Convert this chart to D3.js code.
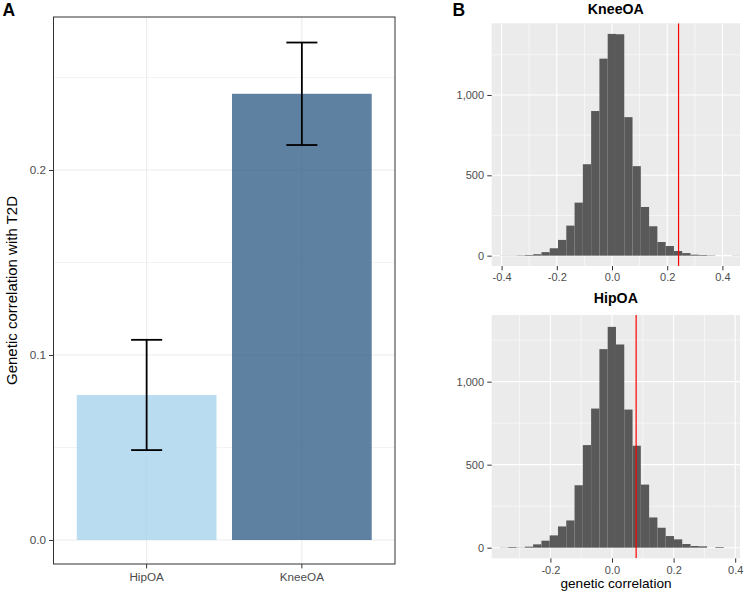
<!DOCTYPE html>
<html>
<head>
<meta charset="utf-8">
<script src="https://cdn.jsdelivr.net/npm/d3@7/dist/d3.min.js"></script>
<style>
  html, body { margin: 0; padding: 0; background: #ffffff; }
  svg { display: block; font-family: "Liberation Sans", Arial, Helvetica, sans-serif; }
</style>
</head>
<body>
<svg id="chart" width="744" height="594"></svg>
<script>
// ---------------- DATA ----------------
const categories = ["HipOA", "KneeOA"];
const rgValues = [0.0784, 0.2412];
const rgSE = [0.0298, 0.0277];
const yTicksA = [0.0, 0.1, 0.2];

// KneeOA permutation histogram (bin counts, left to right)
const kneeBinStart = -0.4056;
const kneeBinWidth = 0.03;
const kneeCounts = [1, 1, 2, 4, 9, 22, 46, 98, 187, 330, 569, 900, 1226, 1380, 1378,
                    862, 557, 303, 183, 85, 60, 29, 16, 6, 4, 2, 0, 0, 1];
const kneeObserved = 0.2412;
const kneeXTicks = [-0.4, -0.2, 0.0, 0.2, 0.4];

// HipOA permutation histogram (bin counts, left to right)
const hipBinStart = -0.3637;
const hipBinWidth = 0.0269;
const hipCounts = [1, 4, 1, 6, 20, 42, 74, 128, 164, 376, 618, 838, 1196, 1330, 1224,
                   832, 614, 380, 182, 120, 70, 50, 22, 10, 8, 0, 4];
const hipObserved = 0.0784;
const hipXTicks = [-0.2, 0.0, 0.2, 0.4];

const histYTicks = [0, 500, 1000];

// ---------------- STYLE ----------------
const barFill = ["#A8D3EC", "#36618B"];
const barOpacity = 0.8;
const histFill = "#595959";
const panelGrey = "#EBEBEB";
const tickText = "#4D4D4D";
const tickLine = "#333333";

const svg = d3.select("#chart");
const fmt1 = d => d.toFixed(1);

function styleAxis(g, fontSize) {
  g.select(".domain").remove();
  g.selectAll(".tick line").attr("stroke", tickLine).attr("stroke-width", 1);
  g.selectAll(".tick text").attr("fill", tickText).style("font-size", fontSize + "px")
    .attr("font-family", null);
}

// ---------------- PANEL A ----------------
(function () {
  const L = 53.5, R = 395, T = 17, B = 564;
  const x = d3.scaleBand().domain(categories).range([L, R]).paddingInner(0.1).paddingOuter(0.15);
  const y = d3.scaleLinear().domain([-0.01297, 0.2827]).range([B, T]);
  const g = svg.append("g");

  // grid
  const minorY = [0.05, 0.15, 0.25];
  g.selectAll(".minorY").data(minorY).join("line")
    .attr("x1", L).attr("x2", R).attr("y1", d => y(d)).attr("y2", d => y(d))
    .attr("stroke", panelGrey).attr("stroke-width", 0.6);
  g.selectAll(".majorY").data(yTicksA).join("line")
    .attr("x1", L).attr("x2", R).attr("y1", d => y(d)).attr("y2", d => y(d))
    .attr("stroke", panelGrey).attr("stroke-width", 1.1);
  g.selectAll(".majorX").data(categories).join("line")
    .attr("x1", d => x(d) + x.bandwidth() / 2).attr("x2", d => x(d) + x.bandwidth() / 2)
    .attr("y1", T).attr("y2", B)
    .attr("stroke", panelGrey).attr("stroke-width", 1.1);

  // bars
  g.selectAll(".bar").data(categories).join("rect")
    .attr("x", d => x(d)).attr("width", x.bandwidth())
    .attr("y", (d, i) => y(rgValues[i])).attr("height", (d, i) => y(0) - y(rgValues[i]))
    .attr("fill", (d, i) => barFill[i]).attr("fill-opacity", barOpacity);

  // error bars
  const capW = x.step() * 0.2;
  categories.forEach((c, i) => {
    const cx = x(c) + x.bandwidth() / 2;
    const lo = y(rgValues[i] - rgSE[i]), hi = y(rgValues[i] + rgSE[i]);
    g.append("line").attr("x1", cx).attr("x2", cx).attr("y1", lo).attr("y2", hi)
      .attr("stroke", "#000").attr("stroke-width", 1.8);
    [lo, hi].forEach(yy => g.append("line").attr("x1", cx - capW / 2).attr("x2", cx + capW / 2)
      .attr("y1", yy).attr("y2", yy).attr("stroke", "#000").attr("stroke-width", 1.8));
  });

  // border
  g.append("rect").attr("x", L).attr("y", T).attr("width", R - L).attr("height", B - T)
    .attr("fill", "none").attr("stroke", tickLine).attr("stroke-width", 1);

  // axes
  const ay = g.append("g").attr("transform", `translate(${L},0)`)
    .call(d3.axisLeft(y).tickValues(yTicksA).tickFormat(fmt1).tickSize(4.4).tickPadding(3));
  styleAxis(ay, 11.7);
  const ax = g.append("g").attr("transform", `translate(0,${B})`)
    .call(d3.axisBottom(x).tickSize(4.4).tickPadding(4.4));
  styleAxis(ax, 11.7);

  // titles
  svg.append("text").attr("transform", `translate(16.5,${(T + B) / 2}) rotate(-90)`)
    .attr("text-anchor", "middle").style("font-size", "15px").attr("fill", "#000")
    .text("Genetic correlation with T2D");
  svg.append("text").attr("x", 2.5).attr("y", 16).style("font-size", "17.5px")
    .style("font-weight", "bold").text("A");
})();

// ---------------- PANEL B ----------------
function histogram(opts) {
  const { L, R, T, B, xDomain, yDomain, start, width, counts, observed, xTicks, title, titleY } = opts;
  const x = d3.scaleLinear().domain(xDomain).range([L, R]);
  const y = d3.scaleLinear().domain(yDomain).range([B, T]);
  const g = svg.append("g");

  g.append("rect").attr("x", L).attr("y", T).attr("width", R - L).attr("height", B - T)
    .attr("fill", panelGrey);

  const clipId = "clip" + title;
  svg.append("clipPath").attr("id", clipId).append("rect")
    .attr("x", L).attr("y", T).attr("width", R - L).attr("height", B - T);
  const inner = g.append("g").attr("clip-path", `url(#${clipId})`);

  // minor gridlines (midpoints of 0.1 grid)
  const allX = d3.range(-6, 7).map(k => k / 10);
  const minorXs = allX.filter(v => !xTicks.some(t => Math.abs(t - v) < 1e-9) && v >= xDomain[0] && v <= xDomain[1]);
  const minorYs = [250, 750, 1250];
  inner.selectAll(".mx").data(minorXs).join("line")
    .attr("x1", d => x(d)).attr("x2", d => x(d)).attr("y1", T).attr("y2", B)
    .attr("stroke", "#fff").attr("stroke-width", 0.55);
  inner.selectAll(".my").data(minorYs).join("line")
    .attr("x1", L).attr("x2", R).attr("y1", d => y(d)).attr("y2", d => y(d))
    .attr("stroke", "#fff").attr("stroke-width", 0.55);
  inner.selectAll(".Mx").data(xTicks).join("line")
    .attr("x1", d => x(d)).attr("x2", d => x(d)).attr("y1", T).attr("y2", B)
    .attr("stroke", "#fff").attr("stroke-width", 1.1);
  inner.selectAll(".My").data(histYTicks).join("line")
    .attr("x1", L).attr("x2", R).attr("y1", d => y(d)).attr("y2", d => y(d))
    .attr("stroke", "#fff").attr("stroke-width", 1.1);

  // bars
  inner.selectAll(".hb").data(counts).join("rect")
    .attr("x", (d, i) => x(start + i * width))
    .attr("width", (d, i) => x(start + (i + 1) * width) - x(start + i * width))
    .attr("y", d => y(d)).attr("height", d => y(0) - y(d))
    .attr("fill", histFill);

  // observed line
  inner.append("line").attr("x1", x(observed)).attr("x2", x(observed)).attr("y1", T).attr("y2", B)
    .attr("stroke", "#FF0000").attr("stroke-width", 1.2);

  // axes
  const ay = g.append("g").attr("transform", `translate(${L},0)`)
    .call(d3.axisLeft(y).tickValues(histYTicks).tickFormat(d3.format(",")).tickSize(4.4).tickPadding(3.2));
  styleAxis(ay, 11);
  const ax = g.append("g").attr("transform", `translate(0,${B})`)
    .call(d3.axisBottom(x).tickValues(xTicks).tickFormat(fmt1).tickSize(4.4).tickPadding(3));
  styleAxis(ax, 11);

  svg.append("text").attr("x", (L + R) / 2).attr("y", titleY).attr("text-anchor", "middle")
    .style("font-size", "14.2px").style("font-weight", "bold").text(title);
}

histogram({
  L: 491.7, R: 740, T: 23.3, B: 266,
  xDomain: [-0.4359, 0.4638], yDomain: [-64.3, 1446],
  start: kneeBinStart, width: kneeBinWidth, counts: kneeCounts, observed: kneeObserved,
  xTicks: kneeXTicks, title: "KneeOA", titleY: 13.5
});
histogram({
  L: 491.7, R: 740, T: 315, B: 558.3,
  xDomain: [-0.3906, 0.4156], yDomain: [-64, 1401.6],
  start: hipBinStart, width: hipBinWidth, counts: hipCounts, observed: hipObserved,
  xTicks: hipXTicks, title: "HipOA", titleY: 303
});

svg.append("text").attr("x", 616).attr("y", 588).attr("text-anchor", "middle")
  .style("font-size", "13.6px").attr("fill", "#000").text("genetic correlation");
svg.append("text").attr("x", 452.5).attr("y", 16).style("font-size", "17.5px")
  .style("font-weight", "bold").text("B");
</script>
</body>
</html>
